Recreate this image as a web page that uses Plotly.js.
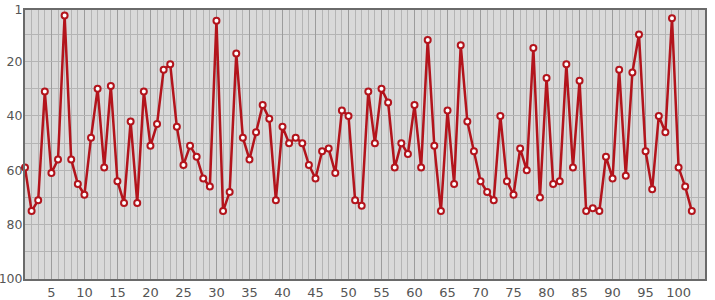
<!DOCTYPE html>
<html>
<head>
<meta charset="utf-8">
<script src="https://cdn.plot.ly/plotly-3.0.1.min.js"></script>
<style>html,body{margin:0;padding:0;background:#fff;}#chart{width:715px;height:300px;}</style>
</head>
<body>
<div id="chart"></div>
<script>
var xValues = [];
for (var i = 1; i <= 102; i++) xValues.push(i);
var yValues = [59,75,71,31,61,56,3,56,65,69,
               48,30,59,29,64,72,42,72,31,51,
               43,23,21,44,58,51,55,63,66,5,
               75,68,17,48,56,46,36,41,71,44,
               50,48,50,58,63,53,52,61,38,40,
               71,73,31,50,30,35,59,50,54,36,
               59,12,51,75,38,65,14,42,53,64,
               68,71,40,64,69,52,60,15,70,26,
               65,64,21,59,27,75,74,75,55,63,
               23,62,24,10,53,67,40,46,4,59,
               66,75];
var xTickVals = [5,10,15,20,25,30,35,40,45,50,55,60,65,70,75,80,85,90,95,100];
var yTickVals = [1,20,40,60,80,100];
var yTickText = ['1','20','40','60','80','100'];

var trace = {
  x: xValues, y: yValues, type: 'scatter', mode: 'lines+markers',
  cliponaxis: false,
  line: {color: '#b3141c', width: 2.5},
  marker: {symbol: 'circle', size: 6, color: '#ffffff', line: {color: '#b3141c', width: 2}},
  hoverinfo: 'x+y'
};
var layout = {
  width: 715, height: 300,
  margin: {l: 25, r: 10, t: 10, b: 21, pad: 0},
  paper_bgcolor: '#ffffff', plot_bgcolor: '#d9d9d9',
  showlegend: false,
  font: {family: 'DejaVu Sans, sans-serif', size: 13, color: '#555555'},
  xaxis: {
    range: [1, 104], tickmode: 'array', tickvals: xTickVals,
    showgrid: true, gridcolor: '#9c9c9c', gridwidth: 1,
    minor: {tickmode: 'linear', tick0: 0, dtick: 1, showgrid: true, gridcolor: '#b4b4b4', gridwidth: 1},
    zeroline: false, showline: true, linecolor: '#6a6a6a', linewidth: 2, mirror: true,
    ticks: '', ticklen: 0, fixedrange: true
  },
  yaxis: {
    range: [100, 1], tickmode: 'array', tickvals: yTickVals, ticktext: yTickText,
    showgrid: true, gridcolor: '#b4b4b4', gridwidth: 1,
    minor: {tickmode: 'array', tickvals: [10,30,50,70,90], showgrid: true, gridcolor: '#b4b4b4', gridwidth: 1},
    zeroline: false, showline: true, linecolor: '#6a6a6a', linewidth: 2, mirror: true,
    ticks: '', ticklen: 0, ticklabelstandoff: -2, tickfont: {size: 12.5}, fixedrange: true
  }
};
Plotly.newPlot('chart', [trace], layout, {staticPlot: true, displayModeBar: false});
</script>
</body>
</html>
